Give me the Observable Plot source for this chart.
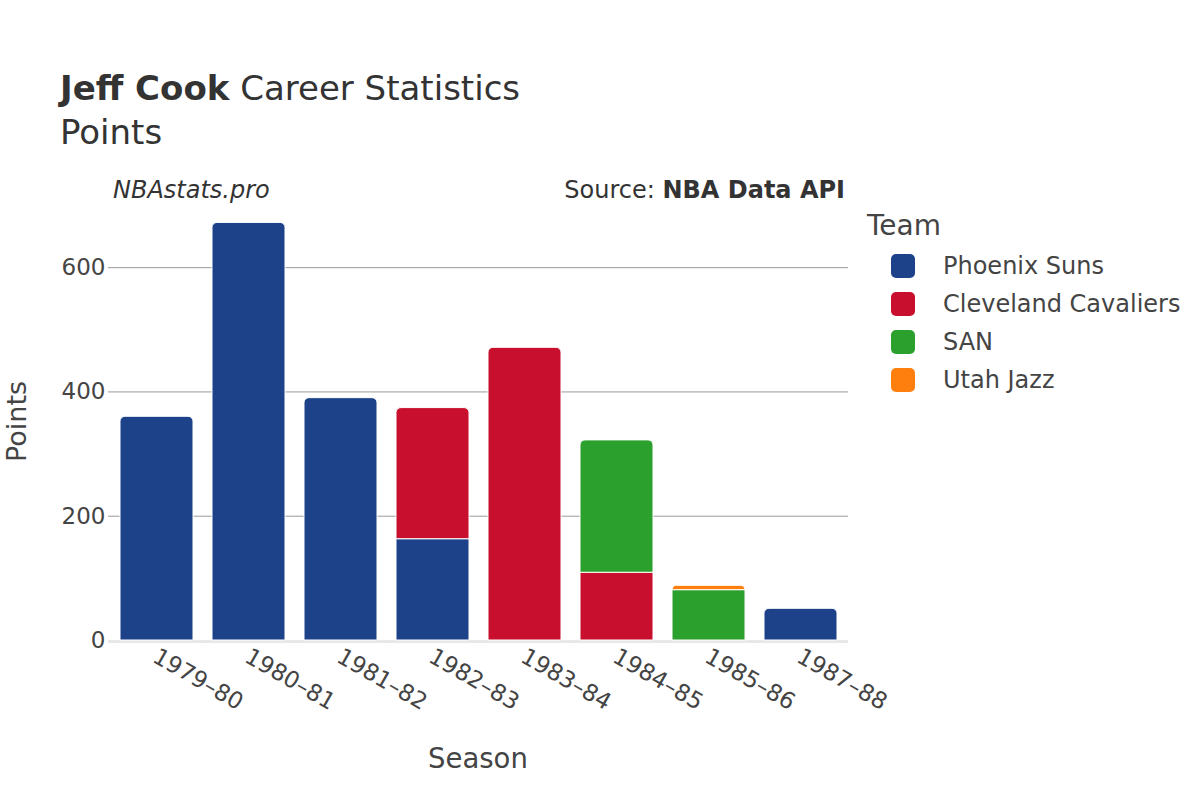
<!DOCTYPE html>
<html><head><meta charset="utf-8">
<script src="https://cdn.jsdelivr.net/npm/d3@7"></script>
<script src="https://cdn.jsdelivr.net/npm/@observablehq/plot@0.6"></script>
<style>
body{margin:0;background:#fff;}
#wrap{position:relative;width:1200px;height:800px;font-family:"DejaVu Sans",sans-serif;color:#444;overflow:hidden;}
#wrap svg{position:absolute;left:0;top:0;}
.t{position:absolute;white-space:nowrap;line-height:1;}
.sw{position:absolute;width:24px;height:24px;border-radius:5px;}
</style></head><body><div id="wrap">
<div class="t" style="left:60px;top:71px;font-size:34px;color:#333;"><b>Jeff Cook</b> Career Statistics</div>
<div class="t" style="left:60px;top:115px;font-size:34px;color:#333;">Points</div>
<div class="t" style="left:113px;top:178px;font-size:24px;font-style:italic;color:#333;">NBAstats.pro</div>
<div class="t" style="right:355px;top:178px;font-size:24px;color:#333;">Source: <b>NBA Data API</b></div>
<div class="t" style="left:428px;top:745px;font-size:27.5px;color:#444;">Season</div>
<div class="t" style="left:3px;top:462px;font-size:27px;color:#444;transform:rotate(-90deg);transform-origin:0 0;">Points</div>
<div id="legend"></div>
</div>
<script>
const seasons = ["1979–80","1980–81","1981–82","1982–83","1983–84","1984–85","1985–86","1987–88"];
const teams = ["Phoenix Suns","Cleveland Cavaliers","SAN","Utah Jazz"];
const teamColors = ["#1d428a","#c8102e","#2ca02c","#ff7f0e"];
const phoenixPts   = [360, 672, 390, 163, 0, 0, 0, 51];
const clevelandPts = [0, 0, 0, 211, 471, 109, 0, 0];
const sanPts       = [0, 0, 0, 0, 0, 213, 81, 0];
const utahPts      = [0, 0, 0, 0, 0, 0, 7, 0];
const yTicks = [0, 200, 400, 600];

const series = [phoenixPts, clevelandPts, sanPts, utahPts];
const rows = [];
seasons.forEach((s, i) => {
  let cum = 0;
  const segs = [];
  teams.forEach((t, k) => {
    const v = series[k][i];
    if (v > 0) { segs.push({season: s, team: t, y1: cum, y2: cum + v}); cum += v; }
  });
  segs.forEach((d, j) => { d.top = j === segs.length - 1; rows.push(d); });
});

const chart = Plot.plot({
  width: 1200, height: 800,
  marginLeft: 108, marginRight: 352, marginTop: 205, marginBottom: 160,
  style: {fontSize: "23px", fontFamily: "DejaVu Sans", color: "#444", background: "transparent"},
  x: {domain: seasons, paddingInner: 0.21, paddingOuter: 0.105, label: null},
  y: {domain: [0, 700], label: null},
  color: {domain: teams, range: teamColors},
  marks: [
    Plot.gridY(yTicks.filter(d => d > 0), {stroke: "#999", strokeOpacity: 1, strokeWidth: 1}),
    Plot.ruleY([0], {stroke: "#e8e8e8", strokeWidth: 3, dy: 1}),
    Plot.barY(rows.filter(d => !d.top), {x: "season", y1: "y1", y2: "y2", fill: "team", stroke: "white", strokeWidth: 1}),
    Plot.barY(rows.filter(d => d.top), {x: "season", y1: "y1", y2: "y2", fill: "team", stroke: "white", strokeWidth: 1, ry1: 5}),
    Plot.axisY(yTicks, {tickSize: 0, tickPadding: 3, label: null, fill: "#444", fontSize: 23}),
    Plot.axisX({tickSize: 0, tickPadding: 14, dx: -2, tickRotate: 30, label: null, fill: "#444", fontSize: 23})
  ]
});
document.getElementById("wrap").appendChild(chart);

const leg = document.getElementById("legend");
let html = '<div class="t" style="left:867px;top:212px;font-size:28px;color:#444;">Team</div>';
teams.forEach((t, k) => {
  const y = 254 + k * 38;
  html += `<div class="sw" style="left:891px;top:${y}px;background:${teamColors[k]}"></div>`;
  html += `<div class="t" style="left:943px;top:${y}px;font-size:24px;color:#444;">${t}</div>`;
});
leg.innerHTML = html;
</script>
</body></html>
